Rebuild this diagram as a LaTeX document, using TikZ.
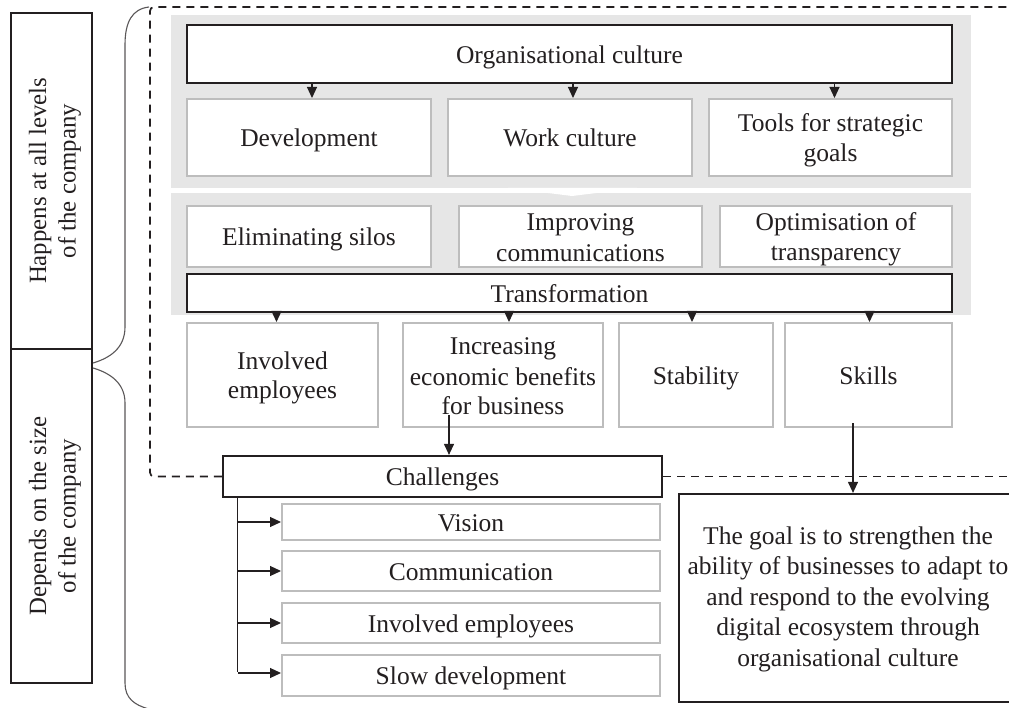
\documentclass[tikz,border=0pt]{standalone}
\usepackage{fontspec}
\setmainfont{Liberation Serif}
\usetikzlibrary{arrows.meta,calc}
\definecolor{bandgray}{HTML}{E6E6E6}
\definecolor{boxgray}{HTML}{BDBDBD}
\definecolor{ink}{HTML}{231F20}
\newcommand\tstr{\rule[-5pt]{0pt}{29pt}}
\begin{document}
\begin{tikzpicture}[x=1pt,y=-1pt,
  every node/.style={font=\fontsize{25.5}{29.5}\selectfont, text=ink, inner sep=0pt, align=center},
  gbox/.style={draw=boxgray, line width=2pt, fill=white},
  kbox/.style={draw=ink, line width=2.2pt, fill=white},
  sidebox/.style={draw=ink, line width=1.6pt, fill=white, rotate=90, font=\fontsize{24.8}{29.5}\selectfont},
  arr/.style={draw=ink, line width=1.1pt, -{Triangle[width=10pt,length=11pt]}},
  plain/.style={draw=ink, line width=1.1pt},
  dashbd/.style={draw=ink, line width=1.7pt, dash pattern=on 8pt off 6pt},
  brace/.style={draw=ink!75, line width=1.1pt}
]
\useasboundingbox (0,0) rectangle (1009,708);
\fill[white] (0,0) rectangle (1009,708);

% gray bands
\fill[bandgray] (171,15) rectangle (971,188);
\fill[bandgray] (171,193) rectangle (971,315);
\fill[white] (508,188) .. controls (540,192) .. (572,196) .. controls (604,192) .. (637,188) -- cycle;

% side boxes
\node[sidebox, minimum width=336pt, minimum height=81pt] (happ) at (51.5,181) {Happens at all levels\tstr\\of the company\tstr};
\node[sidebox, minimum width=334pt, minimum height=81pt] (dep) at (51.5,516) {Depends on the size\tstr\\of the company\tstr};

% braces
\draw[brace] (149,7) .. controls (132,9) and (125,22) .. (125,45) -- (125,327) .. controls (125,348) and (110,358) .. (93,363);
\draw[brace] (93,368) .. controls (110,373) and (125,383) .. (125,403) -- (125,683) .. controls (125,698) and (134,705) .. (149,709);

% top level
\node[kbox, minimum width=765pt, minimum height=58pt] (org) at (569.5,54) {Organisational culture\tstr};
\node[gbox, minimum width=244pt, minimum height=77pt] (dev) at (309,137.5) {Development\tstr};
\node[gbox, minimum width=244pt, minimum height=77pt] (work) at (570,137.5) {Work culture\tstr};
\node[gbox, minimum width=243pt, minimum height=77pt] (tools) at (830.5,137.5) {Tools for strategic\tstr\\goals\tstr};

\node[gbox, minimum width=244pt, minimum height=61pt] (elim) at (309,236.5) {Eliminating silos\tstr};
\node[gbox, minimum width=243pt, minimum height=61pt] (impr) at (580.5,236.5) {Improving\tstr\\communications\tstr};
\node[gbox, minimum width=232pt, minimum height=61pt] (opt) at (836,236.5) {Optimisation of\tstr\\transparency\tstr};
\node[kbox, minimum width=765pt, minimum height=38pt] (trans) at (569.5,293) {Transformation\tstr};

\node[gbox, minimum width=191pt, minimum height=104pt] (inv) at (282.5,375) {Involved\tstr\\employees\tstr};
\node[gbox, minimum width=200pt, minimum height=104pt] (inc) at (503,375) {Increasing\tstr\\economic benefits\tstr\\for business\tstr};
\node[gbox, minimum width=154pt, minimum height=104pt] (stab) at (696,375) {Stability\tstr};
\node[gbox, minimum width=167pt, minimum height=104pt] (skills) at (868.5,375) {Skills\tstr};

% challenges and dashed boundary
\node[kbox, minimum width=439pt, minimum height=41pt] (chal) at (442.5,476.5) {Challenges\tstr};
\draw[dashbd, rounded corners=4pt] (chal.west) -- (150,476.5) -- (150,7) -- (1015,7);
\draw[dashbd] (chal.east) -- (1015,476.5);

\node[gbox, minimum width=378pt, minimum height=36pt] (vis) at (471,522) {Vision\tstr};
\node[gbox, minimum width=378pt, minimum height=40pt] (comm) at (471,571) {Communication\tstr};
\node[gbox, minimum width=378pt, minimum height=40pt] (inv2) at (471,623) {Involved employees\tstr};
\node[gbox, minimum width=378pt, minimum height=41pt] (slow) at (471,675.5) {Slow development\tstr};

\node[kbox, minimum width=345pt, minimum height=208pt] (goal) at (851.5,598) {};
\node (goaltxt) at (848,596) {The goal is to strengthen the\tstr\\ability of businesses to adapt to\tstr\\and respond to the evolving\tstr\\digital ecosystem through\tstr\\organisational culture\tstr};

% arrows org -> row
\draw[arr] ([xshift=3pt]dev.north |- org.south) -- ([xshift=3pt]dev.north);
\draw[arr] ([xshift=3pt]work.north |- org.south) -- ([xshift=3pt]work.north);
\draw[arr] ([xshift=4pt]tools.north |- org.south) -- ([xshift=4pt]tools.north);

% arrows trans -> row
\draw[arr] ([xshift=-6pt]inv.north |- trans.south) -- ([xshift=-6pt]inv.north);
\draw[arr] ([xshift=6pt]inc.north |- trans.south) -- ([xshift=6pt]inc.north);
\draw[arr] ([xshift=-4pt]stab.north |- trans.south) -- ([xshift=-4pt]stab.north);
\draw[arr] ([xshift=1pt]skills.north |- trans.south) -- ([xshift=1pt]skills.north);

% inc -> challenges
\draw[arr] ([xshift=-54pt,yshift=13pt]inc.south) -- ([xshift=6.5pt]chal.north);
% skills -> goal
\draw[arr] ([xshift=-15.5pt,yshift=5pt]skills.south) -- ([xshift=-15.5pt]skills.south |- goal.north);

% challenge list
\coordinate (trunk) at ([xshift=16pt]chal.south west);
\draw[plain] (trunk) -- ([yshift=4pt]trunk |- slow.west);
\draw[arr] (trunk |- vis.west) -- (vis.west);
\draw[arr] (trunk |- comm.west) -- (comm.west);
\draw[arr] (trunk |- inv2.west) -- (inv2.west);
\draw[arr] ([yshift=2.5pt]trunk |- slow.west) -- ([yshift=2.5pt]slow.west);
\end{tikzpicture}
\end{document}
